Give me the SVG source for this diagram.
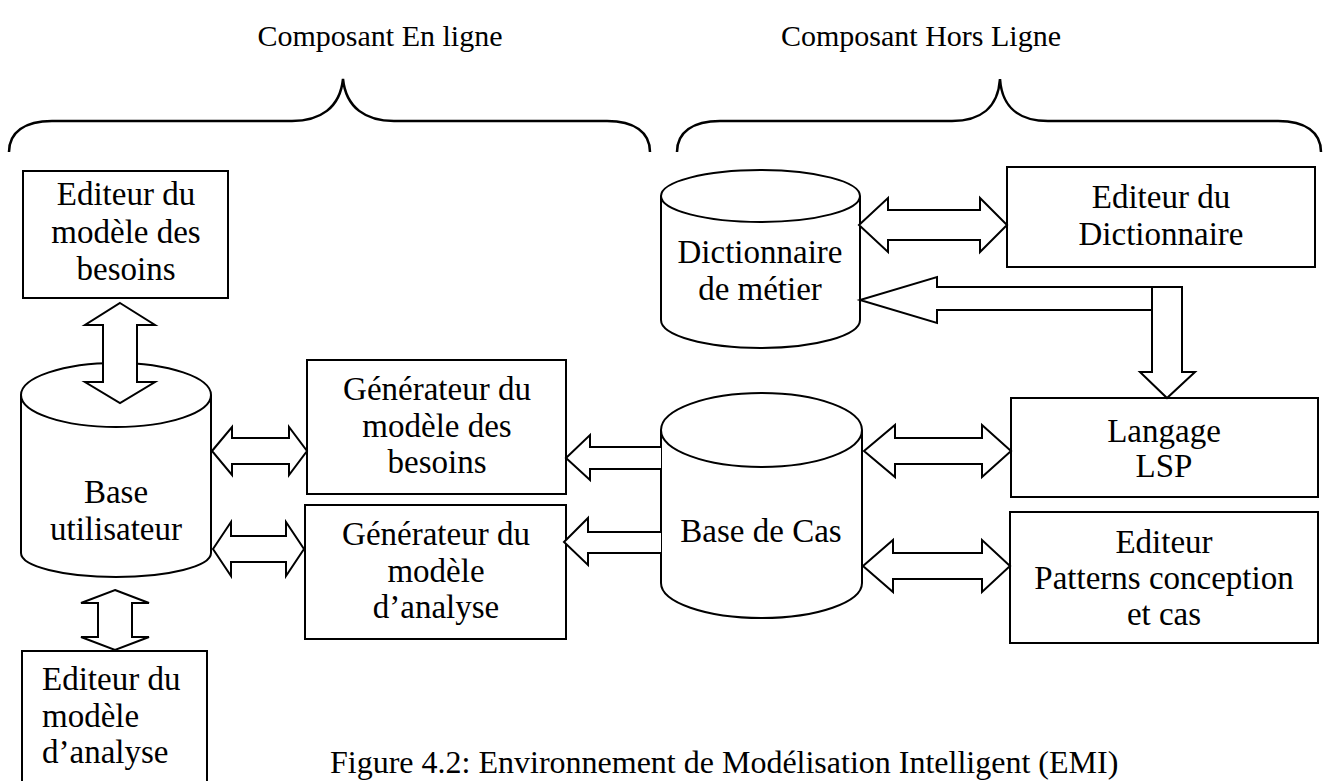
<svg xmlns="http://www.w3.org/2000/svg" width="1325" height="781" viewBox="0 0 1325 781">
<style>
  .t { font-family: "Liberation Serif", "Times New Roman", serif; font-size: 33px; fill: #000; }
  .h { font-size: 30px; }
  .cap { font-size: 32px; }
  .c { text-anchor: middle; }
  .box { fill: #fff; stroke: #000; stroke-width: 2; }
  .cyl { fill: #fff; stroke: #000; stroke-width: 2; }
  .arr { fill: #fff; stroke: #000; stroke-width: 2; stroke-linejoin: miter; }
  .brace { fill: none; stroke: #000; stroke-width: 2.5; }
</style>
<rect width="1325" height="781" fill="#fff"/>

<g id="titles">
  <text class="t h c" x="380" y="46">Composant En ligne</text>
  <text class="t h c" x="921" y="46">Composant Hors Ligne</text>
  <path class="brace" d="M9,152 C9,132 25,121 52,121 L292,121 C320,121 340,108 343,79 C346,108 366,121 394,121 L607,121 C634,121 650,132 650,152"/>
  <path class="brace" d="M677,152 C677,132 693,121 720,121 L952,121 C980,121 998,108 1000,79 C1002,108 1020,121 1048,121 L1278,121 C1305,121 1321,132 1321,152"/>
</g>

<g id="editeur-besoins">
  <rect class="box" x="23" y="171" width="205" height="127"/>
  <text class="t c" x="126" y="205">Editeur du</text>
  <text class="t c" x="126" y="243">modèle des</text>
  <text class="t c" x="126" y="280">besoins</text>
</g>

<g id="base-utilisateur">
  <path class="cyl" d="M21,395 L21,553 A95,24 0 0 0 211,553 L211,395"/>
  <ellipse class="cyl" cx="116" cy="395" rx="95" ry="32"/>
  <text class="t c" x="116" y="503">Base</text>
  <text class="t c" x="116" y="540">utilisateur</text>
</g>

<g id="generateur-besoins">
  <rect class="box" x="307" y="360" width="259" height="134"/>
  <text class="t c" x="437" y="400">Générateur du</text>
  <text class="t c" x="437" y="437">modèle des</text>
  <text class="t c" x="437" y="473">besoins</text>
</g>

<g id="generateur-analyse">
  <rect class="box" x="305" y="505" width="261" height="134"/>
  <text class="t c" x="436" y="545">Générateur du</text>
  <text class="t c" x="436" y="582">modèle</text>
  <text class="t c" x="436" y="618">d’analyse</text>
</g>

<g id="editeur-analyse">
  <rect class="box" x="22" y="651" width="185" height="140"/>
  <text class="t" x="42" y="690">Editeur du</text>
  <text class="t" x="42" y="727">modèle</text>
  <text class="t" x="42" y="763">d’analyse</text>
</g>

<g id="dictionnaire-metier">
  <path class="cyl" d="M661,196 L661,320 A99.5,28 0 0 0 860,320 L860,196"/>
  <ellipse class="cyl" cx="760.5" cy="196" rx="99.5" ry="26"/>
  <text class="t c" x="760" y="263">Dictionnaire</text>
  <text class="t c" x="760" y="300">de métier</text>
</g>

<g id="editeur-dictionnaire">
  <rect class="box" x="1007" y="167" width="308" height="100"/>
  <text class="t c" x="1161" y="208">Editeur du</text>
  <text class="t c" x="1161" y="245">Dictionnaire</text>
</g>

<g id="base-de-cas">
  <path class="cyl" d="M661,430 L661,583 A100.5,35 0 0 0 862,583 L862,430"/>
  <ellipse class="cyl" cx="761.5" cy="430" rx="100.5" ry="37"/>
  <text class="t c" x="761" y="542">Base de Cas</text>
</g>

<g id="langage-lsp">
  <rect class="box" x="1011" y="398" width="307" height="99"/>
  <text class="t c" x="1164" y="442">Langage</text>
  <text class="t c" x="1164" y="477">LSP</text>
</g>

<g id="editeur-patterns">
  <rect class="box" x="1010" y="512" width="308" height="131"/>
  <text class="t c" x="1164" y="553">Editeur</text>
  <text class="t c" x="1164" y="589">Patterns conception</text>
  <text class="t c" x="1164" y="625">et cas</text>
</g>

<g id="connectors">
  <polygon class="arr" points="120,303 155,325 137,325 137,382 155,382 120,403 85,382 103,382 103,325 85,325"/>
  <polygon class="arr" points="115,590 149,603 132,603 132,637 149,637 115,650 81,637 98,637 98,603 81,603"/>
  <polygon class="arr" points="212,451 232,427 232,438 289,438 289,427 307,451 289,475 289,464 232,464 232,475"/>
  <polygon class="arr" points="213,549 231,522 231,536 286,536 286,522 304,549 286,576 286,562 231,562 231,576"/>
  <polygon class="arr" points="859,225 888,198 888,210 980,210 980,198 1007,225 980,252 980,240 888,240 888,252"/>
  <polygon class="arr" points="864,451 895,425 895,438 982,438 982,425 1011,451 982,477 982,464 895,464 895,477"/>
  <polygon class="arr" points="863,566 893,540 893,553 982,553 982,540 1010,566 982,592 982,579 893,579 893,592"/>
  <path class="arr" d="M661,447 L590,447 L590,435 L566,458 L590,480 L590,469 L661,469"/>
  <path class="arr" d="M661,532 L588,532 L588,518 L564,542 L588,565 L588,553 L661,553"/>
  <path class="arr" d="M1152,287 L937,287 L937,277 L860,300 L937,323 L937,310 L1152,310"/>
  <polygon class="arr" points="1152,287 1182,287 1182,372 1195,372 1167,398 1140,372 1152,372"/>
</g>

<g id="caption">
  <text class="t cap" x="330" y="773">Figure 4.2: Environnement de Modélisation Intelligent (EMI)</text>
</g>
</svg>
